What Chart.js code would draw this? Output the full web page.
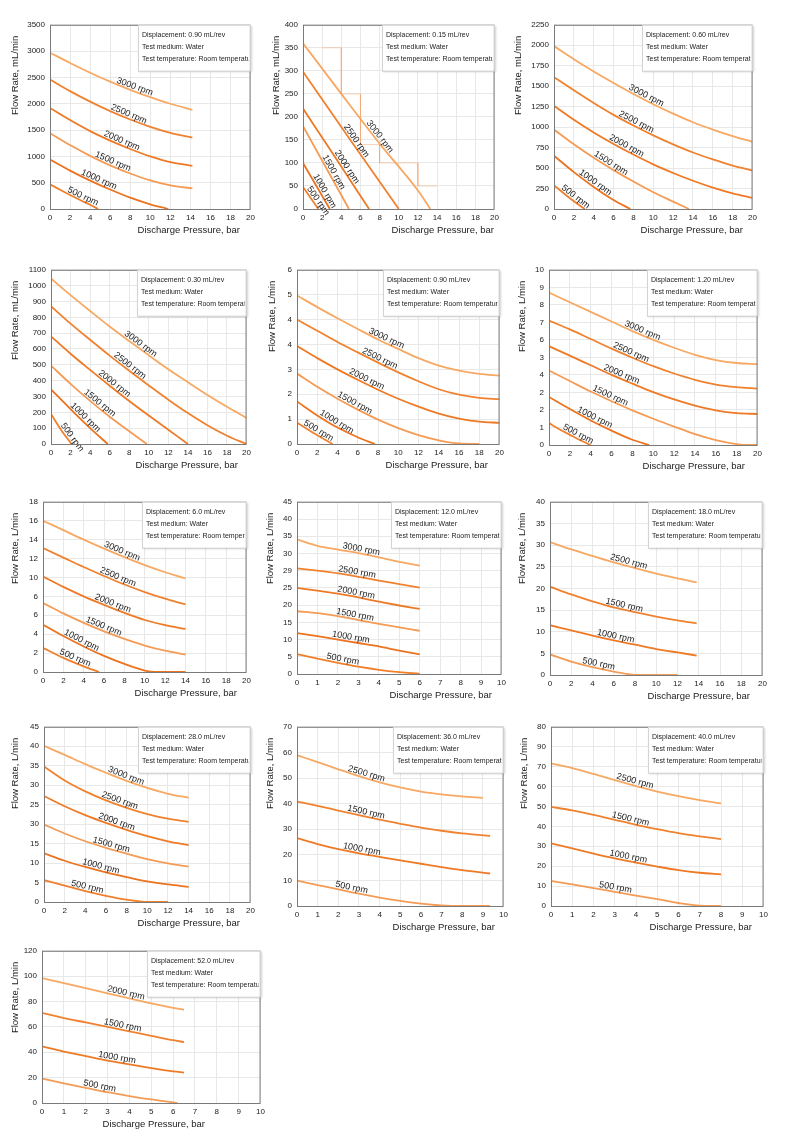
<!DOCTYPE html>
<html>
<head>
<meta charset="utf-8">
<script src="https://cdn.jsdelivr.net/npm/chart.js@4.4.1/dist/chart.umd.min.js"></script>
<style>
  html, body { margin: 0; padding: 0; background: #fff; }
  #sheet { position: relative; width: 800px; height: 1141px; overflow: hidden; }
  #sheet canvas { position: absolute; }
</style>
</head>
<body>
<div id="sheet"></div>
<script>
// curve labels
const speeds6 = ['3000 rpm', '2500 rpm', '2000 rpm', '1500 rpm', '1000 rpm', '500 rpm'];
const speeds4 = ['2500 rpm', '1500 rpm', '1000 rpm', '500 rpm'];
const speeds13 = ['2000 rpm', '1500 rpm', '1000 rpm', '500 rpm'];

// x tick values
const xTicks20 = [0, 2, 4, 6, 8, 10, 12, 14, 16, 18, 20];
const xTicks10 = [0, 1, 2, 3, 4, 5, 6, 7, 8, 9, 10];

// y tick labels as printed on each chart (bottom to top)
const yTicks1 = ['0', '500', '1000', '1500', '2000', '2500', '3000', '3500'];
const yTicks2 = ['0', '50', '100', '150', '200', '250', '300', '350', '400'];
const yTicks3 = ['0', '250', '500', '750', '1000', '1250', '1500', '1750', '2000', '2250'];
const yTicks4 = ['0', '100', '200', '300', '400', '500', '600', '700', '800', '900', '1000', '1100'];
const yTicks5 = ['0', '1', '2', '3', '4', '4', '5', '6'];
const yTicks6 = ['0', '1', '2', '2', '4', '3', '6', '7', '8', '9', '10'];
const yTicks7 = ['0', '2', '4', '6', '6', '10', '12', '14', '16', '18'];
const yTicks8 = ['0', '5', '10', '15', '20', '25', '29', '30', '35', '40', '45'];
const yTicks9 = ['0', '5', '10', '15', '20', '25', '30', '35', '40'];
const yTicks10 = ['0', '5', '10', '15', '30', '25', '30', '35', '40', '45'];
const yTicks11 = ['0', '10', '20', '30', '40', '50', '60', '70'];
const yTicks12 = ['0', '10', '20', '30', '40', '50', '60', '70', '90', '80'];
const yTicks13 = ['0', '20', '40', '60', '80', '100', '120'];

// flow curves: [pressure bar, flow]
const flow090mL = [
  [[0, 2970], [2, 2775], [4, 2590], [6, 2420], [8, 2265], [10, 2125], [12, 2000], [14.2, 1885]],
  [[0, 2460], [2, 2240], [4, 2040], [6, 1860], [8, 1700], [10, 1560], [12, 1445], [14.2, 1355]],
  [[0, 1920], [2, 1690], [4, 1480], [6, 1300], [8, 1140], [10, 1000], [12, 890], [14.2, 820]],
  [[0, 1440], [2, 1215], [4, 1010], [6, 830], [8, 675], [10, 545], [12, 450], [14.2, 390]],
  [[0, 940], [2, 730], [4, 540], [6, 370], [8, 215], [10, 90], [11.8, 0]],
  [[0, 470], [1, 365], [2, 265], [3, 170], [4, 80], [4.8, 0]]
];
const flow015mL = [
  [[0, 360], [4, 250], [8, 142], [12, 40], [13.3, 0]],
  [[0, 298], [5, 148], [10, 0]],
  [[0, 218], [3.5, 108], [6.9, 0]],
  [[0, 180], [2.4, 90], [4.8, 0]],
  [[0, 100], [1.4, 50], [2.8, 0]],
  [[0, 48], [0.8, 24], [1.6, 0]]
];
// faint stepped trace printed behind the 0.15 mL/rev curves
const trace015mL = [[2, 350], [4, 350], [4, 250], [6, 250], [6, 140], [8, 140], [8, 100], [12, 100], [12, 50], [14, 50]];
const flow060mL = [
  [[0, 1990], [2, 1830], [4, 1680], [6, 1540], [8, 1405], [10, 1280], [12, 1165], [14, 1060], [16, 970], [18, 890], [20, 820]],
  [[0, 1610], [2, 1450], [4, 1295], [6, 1150], [8, 1020], [10, 900], [12, 790], [14, 690], [16, 605], [18, 530], [20, 470]],
  [[0, 1260], [2, 1090], [4, 935], [6, 795], [8, 665], [10, 545], [12, 440], [14, 345], [16, 262], [18, 192], [20, 135]],
  [[0, 970], [2, 790], [4, 625], [6, 475], [8, 335], [10, 205], [12, 90], [13.6, 0]],
  [[0, 650], [2, 450], [4, 270], [6, 110], [7.7, 0]],
  [[0, 290], [1, 190], [2, 95], [3.1, 0]]
];
const flow030mL = [
  [[0, 1045], [2, 940], [4, 840], [6, 742], [8, 650], [10, 560], [12, 472], [14, 390], [16, 310], [18, 235], [20, 165]],
  [[0, 870], [2, 760], [4, 658], [6, 558], [8, 462], [10, 370], [12, 280], [14, 195], [16, 118], [18, 52], [20, 0]],
  [[0, 680], [2, 570], [4, 468], [6, 368], [8, 272], [10, 180], [12, 90], [14, 0]],
  [[0, 495], [2, 380], [4, 272], [6, 172], [8, 80], [9.8, 0]],
  [[0, 345], [2, 220], [4, 100], [5.8, 0]],
  [[0, 190], [1, 92], [2.1, 0]]
];
const flow090L = [
  [[0, 5.97], [2, 5.5], [4, 5.05], [6, 4.62], [8, 4.2], [10, 3.82], [12, 3.45], [14, 3.15], [16, 2.95], [18, 2.82], [20, 2.75]],
  [[0, 5.0], [2, 4.55], [4, 4.1], [6, 3.68], [8, 3.27], [10, 2.88], [12, 2.52], [14, 2.2], [16, 1.98], [18, 1.85], [20, 1.8]],
  [[0, 3.94], [2, 3.45], [4, 3.0], [6, 2.58], [8, 2.18], [10, 1.82], [12, 1.5], [14, 1.22], [16, 1.02], [18, 0.9], [20, 0.85]],
  [[0, 2.83], [2, 2.3], [4, 1.82], [6, 1.38], [8, 0.98], [10, 0.64], [12, 0.36], [14, 0.15], [16, 0.02], [18, 0]],
  [[0, 1.71], [2, 1.15], [4, 0.66], [6, 0.27], [7.7, 0]],
  [[0, 0.86], [1, 0.6], [2, 0.35], [3, 0.12], [3.5, 0]]
];
const flow120L = [
  [[0, 8.7], [2, 8.15], [4, 7.6], [6, 7.05], [8, 6.5], [10, 6.0], [12, 5.55], [14, 5.15], [16, 4.85], [18, 4.68], [20, 4.62]],
  [[0, 7.1], [2, 6.6], [4, 6.05], [6, 5.5], [8, 4.98], [10, 4.5], [12, 4.08], [14, 3.72], [16, 3.45], [18, 3.3], [20, 3.22]],
  [[0, 5.64], [2, 5.1], [4, 4.55], [6, 4.0], [8, 3.5], [10, 3.02], [12, 2.6], [14, 2.25], [16, 1.98], [18, 1.82], [20, 1.77]],
  [[0, 4.25], [2, 3.65], [4, 3.05], [6, 2.5], [8, 1.98], [10, 1.5], [12, 1.05], [14, 0.62], [16, 0.28], [18, 0.05], [19, 0], [20, 0]],
  [[0, 2.74], [2, 2.05], [4, 1.4], [6, 0.82], [8, 0.3], [9.6, 0]],
  [[0, 1.25], [1, 0.9], [2, 0.58], [3, 0.27], [4, 0]]
];
const flow600L = [
  [[0, 16.0], [2, 15.0], [4, 14.0], [6, 13.05], [8, 12.15], [10, 11.3], [12, 10.55], [14, 9.9]],
  [[0, 13.1], [2, 12.1], [4, 11.1], [6, 10.15], [8, 9.25], [10, 8.45], [12, 7.75], [14, 7.15]],
  [[0, 10.1], [2, 9.0], [4, 8.0], [6, 7.1], [8, 6.25], [10, 5.5], [12, 4.95], [14, 4.55]],
  [[0, 7.3], [2, 6.2], [4, 5.2], [6, 4.3], [8, 3.5], [10, 2.8], [12, 2.25], [14, 1.85]],
  [[0, 5.0], [2, 3.8], [4, 2.7], [6, 1.7], [8, 0.85], [10, 0.15], [11, 0], [14, 0]],
  [[0, 2.55], [2, 1.5], [4, 0.6], [5.5, 0]]
];
const flow1200L = [
  [[0, 35.2], [1, 33.5], [2, 32.5], [3, 31.6], [4, 30.5], [5, 29.3], [6, 28.3]],
  [[0, 27.6], [1, 27.0], [2, 26.3], [3, 25.4], [4, 24.4], [5, 23.5], [6, 22.6]],
  [[0, 22.5], [1, 21.8], [2, 21.0], [3, 20.0], [4, 18.9], [5, 17.9], [6, 17.0]],
  [[0, 16.4], [1, 15.9], [2, 15.1], [3, 14.1], [4, 13.1], [5, 12.2], [6, 11.3]],
  [[0, 10.7], [1, 9.9], [2, 9.0], [3, 8.1], [4, 7.2], [5, 6.1], [6, 5.1]],
  [[0, 5.2], [1, 4.0], [2, 2.9], [3, 1.9], [4, 1.1], [5, 0.5], [6, 0.05]]
];
const flow1800L = [
  [[0, 30.7], [2, 29.0], [4, 27.5], [6, 26.0], [8, 24.7], [10, 23.4], [12, 22.3], [13.8, 21.4]],
  [[0, 20.4], [2, 18.6], [4, 17.0], [6, 15.6], [8, 14.5], [10, 13.5], [12, 12.6], [13.8, 11.9]],
  [[0, 11.5], [2, 10.3], [4, 9.1], [6, 8.0], [8, 7.0], [10, 6.0], [12, 5.2], [13.8, 4.5]],
  [[0, 4.75], [2, 3.1], [4, 1.8], [6, 0.8], [8, 0.05], [12, 0]]
];
const flow2800L = [
  [[0, 40.1], [2, 37.8], [4, 35.4], [6, 33.2], [8, 31.1], [10, 29.3], [12, 27.8], [14, 26.8]],
  [[0, 34.8], [2, 31.2], [4, 28.4], [6, 26.1], [8, 24.2], [10, 22.6], [12, 21.4], [14, 20.6]],
  [[0, 27.2], [2, 24.6], [4, 22.3], [6, 20.3], [8, 18.5], [10, 16.9], [12, 15.6], [14, 14.6]],
  [[0, 19.9], [2, 17.6], [4, 15.6], [6, 13.9], [8, 12.4], [10, 11.0], [12, 9.9], [14, 9.1]],
  [[0, 12.5], [2, 10.6], [4, 9.0], [6, 7.6], [8, 6.4], [10, 5.3], [12, 4.5], [14, 3.9]],
  [[0, 5.6], [2, 4.2], [4, 2.8], [6, 1.6], [8, 0.6], [10, 0], [12, 0]]
];
const flow3600L = [
  [[0, 58.9], [1, 56.2], [2, 53.4], [3, 50.7], [4, 48.3], [5, 46.3], [6, 44.7], [7, 43.6], [8, 42.8], [9, 42.2]],
  [[0, 40.8], [1, 39.1], [2, 37.3], [3, 35.5], [4, 33.7], [5, 32.1], [6, 30.6], [7, 29.4], [8, 28.4], [9.35, 27.4]],
  [[0, 26.5], [1, 24.2], [2, 22.2], [3, 20.6], [4, 19.2], [5, 17.8], [6, 16.5], [7, 15.2], [8, 14.0], [9.35, 12.7]],
  [[0, 9.9], [1, 8.2], [2, 6.5], [3, 4.8], [4, 3.3], [5, 2.0], [6, 0.9], [7, 0.2], [8, 0], [9.35, 0]]
];
const flow4000L = [
  [[0, 71.6], [1, 69.2], [2, 66.3], [3, 63.2], [4, 60.2], [5, 57.5], [6, 55.2], [7, 53.2], [8, 51.5]],
  [[0, 49.8], [1, 48.0], [2, 45.8], [3, 43.3], [4, 40.8], [5, 38.6], [6, 36.6], [7, 35.0], [8, 33.6]],
  [[0, 31.5], [1, 28.9], [2, 26.3], [3, 23.9], [4, 21.8], [5, 19.8], [6, 18.0], [7, 16.7], [8, 15.9]],
  [[0, 12.6], [1, 10.9], [2, 9.0], [3, 7.1], [4, 5.2], [5, 3.4], [6, 1.5], [7, 0.2], [8, 0]]
];
const flow5200L = [
  [[0, 98.5], [1, 94.5], [2, 90.5], [3, 86.5], [4, 82.5], [5, 78.5], [6, 75], [6.5, 73.5]],
  [[0, 71], [1, 67], [2, 63.5], [3, 60], [4, 56.5], [5, 53], [6, 49.5], [6.5, 48]],
  [[0, 44.6], [1, 40.5], [2, 37], [3, 33.5], [4, 30.5], [5, 27.5], [6, 25], [6.5, 24]],
  [[0, 19.2], [1, 15.5], [2, 12], [3, 8.5], [4, 5.5], [5, 2.8], [6, 0.5], [6.2, 0]]
];

const palette = ['#f7a862', '#f0822f', '#ee7a26', '#f49b55', '#ec7320', '#f0802c'];
const FONT = '"Liberation Sans", Arial, Helvetica, sans-serif';

// page layout: [yTitleX, plotLeft, plotTop, plotRight, plotBottom, boxLeft, xTitleRight]
// labelAt: pressure where each rpm label sits
const charts = [
  { disp: '0.90', unit: 'mL/min', curves: flow090mL, speeds: speeds6, yTicks: yTicks1, yMax: 3500, xTicks: xTicks20,
    frame: [15, 50, 21, 251, 209, 138, 240], labelAt: [8.3, 7.7, 7.0, 6.1, 4.7, 3.1] },
  { disp: '0.15', unit: 'mL/min', curves: flow015mL, speeds: speeds6, yTicks: yTicks2, yMax: 400, xTicks: xTicks20,
    frame: [276, 303, 21, 495, 209, 382, 494], labelAt: [7.65, 5.2, 4.2, 2.8, 1.85, 1.2], trace: trace015mL },
  { disp: '0.60', unit: 'mL/min', curves: flow060mL, speeds: speeds6, yTicks: yTicks3, yMax: 2250, xTicks: xTicks20,
    frame: [518, 554, 21, 753, 209, 642, 743], labelAt: [9.1, 8.1, 7.1, 5.5, 3.9, 1.9] },
  { disp: '0.30', unit: 'mL/min', curves: flow030mL, speeds: speeds6, yTicks: yTicks4, yMax: 1100, xTicks: xTicks20,
    frame: [15, 51, 266, 247, 444, 137, 238], labelAt: [8.9, 7.8, 6.2, 4.7, 3.2, 1.8] },
  { disp: '0.90', unit: 'L/min', curves: flow090L, speeds: speeds6, yTicks: yTicks5, yMax: 7, xTicks: xTicks20,
    frame: [272, 297, 266, 500, 444, 383, 488], labelAt: [8.65, 8.0, 6.7, 5.5, 3.7, 1.9] },
  { disp: '1.20', unit: 'L/min', curves: flow120L, speeds: speeds6, yTicks: yTicks6, yMax: 10, xTicks: xTicks20,
    frame: [522, 549, 266, 758, 445, 647, 745], labelAt: [8.8, 7.7, 6.8, 5.7, 4.2, 2.6] },
  { disp: '6.0', unit: 'L/min', curves: flow600L, speeds: speeds6, yTicks: yTicks7, yMax: 18, xTicks: xTicks20,
    frame: [15, 43, 498, 247, 672, 142, 237], labelAt: [7.6, 7.2, 6.7, 5.8, 3.6, 3.0] },
  { disp: '12.0', unit: 'L/min', curves: flow1200L, speeds: speeds6, yTicks: yTicks8, yMax: 45, xTicks: xTicks10,
    frame: [270, 297, 498, 502, 674, 391, 492], labelAt: [3.1, 2.9, 2.85, 2.8, 2.6, 2.2] },
  { disp: '18.0', unit: 'L/min', curves: flow1800L, speeds: speeds4, yTicks: yTicks9, yMax: 40, xTicks: xTicks20,
    frame: [522, 550, 498, 763, 675, 648, 750], labelAt: [7.3, 6.9, 6.1, 4.5] },
  { disp: '28.0', unit: 'L/min', curves: flow2800L, speeds: speeds6, yTicks: yTicks10, yMax: 45, xTicks: xTicks20,
    frame: [15, 44, 723, 251, 902, 138, 240], labelAt: [7.8, 7.2, 6.9, 6.4, 5.4, 4.1] },
  { disp: '36.0', unit: 'L/min', curves: flow3600L, speeds: speeds4, yTicks: yTicks11, yMax: 70, xTicks: xTicks10,
    frame: [270, 297, 723, 504, 906, 393, 495], labelAt: [3.3, 3.3, 3.1, 2.6] },
  { disp: '40.0', unit: 'L/min', curves: flow4000L, speeds: speeds4, yTicks: yTicks12, yMax: 90, xTicks: xTicks10,
    frame: [524, 551, 723, 764, 906, 648, 752], labelAt: [3.9, 3.7, 3.6, 3.0] },
  { disp: '52.0', unit: 'L/min', curves: flow5200L, speeds: speeds13, yTicks: yTicks13, yMax: 120, xTicks: xTicks10,
    frame: [15, 42, 947, 261, 1103, 147, 205], labelAt: [3.8, 3.65, 3.4, 2.6] }
];

function flowAt(pts, p) {
  if (p <= pts[0][0]) return pts[0][1];
  for (let k = 1; k < pts.length; k++) {
    if (p <= pts[k][0]) {
      const [x0, y0] = pts[k - 1];
      const [x1, y1] = pts[k];
      return y0 + (y1 - y0) * (p - x0) / (x1 - x0);
    }
  }
  return pts[pts.length - 1][1];
}

function makeDecor(spec, originX, originY) {
  const [titleX, , , , , boxLeft, xTitleRight] = spec.frame;
  return {
    id: 'decor',
    afterDatasetsDraw(chart) {
      const { ctx, scales: { x, y } } = chart;
      ctx.save();
      ctx.font = '9px ' + FONT;
      ctx.fillStyle = '#1c1c1c';
      ctx.textAlign = 'center';
      ctx.textBaseline = 'alphabetic';
      spec.labelAt.forEach((p, i) => {
        const pts = spec.curves[i];
        const ax = x.getPixelForValue(p - 0.3), ay = y.getPixelForValue(flowAt(pts, p - 0.3));
        const bx = x.getPixelForValue(p + 0.3), by = y.getPixelForValue(flowAt(pts, p + 0.3));
        ctx.save();
        ctx.translate((ax + bx) / 2, (ay + by) / 2);
        ctx.rotate(Math.atan2(by - ay, bx - ax));
        ctx.fillText(spec.speeds[i], 0, -2);
        ctx.restore();
      });
      ctx.restore();
    },
    afterDraw(chart) {
      const { ctx, chartArea: a } = chart;
      ctx.save();
      // plot frame
      ctx.strokeStyle = '#7a7a7a';
      ctx.lineWidth = 1;
      ctx.strokeRect(a.left + 0.5, a.top + 0.5, a.right - a.left - 1, a.bottom - a.top);

      // test condition box
      const bx = boxLeft - originX, bw = a.right - bx, bh = 46;
      ctx.save();
      ctx.shadowColor = 'rgba(0,0,0,0.18)';
      ctx.shadowBlur = 2;
      ctx.shadowOffsetX = 1;
      ctx.shadowOffsetY = 1;
      ctx.fillStyle = '#fff';
      ctx.fillRect(bx, a.top, bw, bh);
      ctx.restore();
      ctx.strokeStyle = '#d4d4d4';
      ctx.strokeRect(bx + 0.5, a.top + 0.5, bw - 1, bh);
      ctx.save();
      ctx.beginPath();
      ctx.rect(bx, a.top, bw - 2, bh);
      ctx.clip();
      ctx.font = '7px ' + FONT;
      ctx.fillStyle = '#222';
      ctx.textAlign = 'left';
      ctx.textBaseline = 'middle';
      ctx.fillText('Displacement: ' + spec.disp + ' mL/rev', bx + 4, a.top + 10);
      ctx.fillText('Test medium: Water', bx + 4, a.top + 22);
      ctx.fillText('Test temperature: Room temperature', bx + 4, a.top + 34);
      ctx.restore();

      // axis titles
      ctx.font = '9.5px ' + FONT;
      ctx.fillStyle = '#222';
      ctx.textBaseline = 'middle';
      ctx.textAlign = 'right';
      ctx.fillText('Discharge Pressure, bar', xTitleRight - originX, a.bottom + 21);
      ctx.translate(titleX - originX, a.top + 11);
      ctx.rotate(-Math.PI / 2);
      ctx.fillText('Flow Rate, ' + spec.unit, 0, 0);
      ctx.restore();
    }
  };
}

const sheet = document.getElementById('sheet');

charts.forEach((spec) => {
  const [titleX, left, top, right, bottom] = spec.frame;
  const cx = titleX - 7;
  const cy = top - 6;
  const w = right - cx + 8;
  const h = bottom - cy + 34;
  const canvas = document.createElement('canvas');
  canvas.width = w;
  canvas.height = h;
  canvas.style.left = cx + 'px';
  canvas.style.top = cy + 'px';
  canvas.style.width = w + 'px';
  canvas.style.height = h + 'px';
  sheet.appendChild(canvas);

  const xMax = spec.xTicks[spec.xTicks.length - 1];
  const xStep = spec.xTicks[1] - spec.xTicks[0];
  const yStep = spec.yMax / (spec.yTicks.length - 1);

  const datasets = spec.curves.map((pts, i) => ({
    label: spec.speeds[i],
    data: pts.map(([p, q]) => ({ x: p, y: q })),
    borderColor: palette[i % palette.length],
    borderWidth: 1.8,
    pointRadius: 0,
    fill: false,
    cubicInterpolationMode: 'monotone',
  }));
  if (spec.trace) {
    datasets.unshift({
      label: 'trace',
      data: spec.trace.map(([p, q]) => ({ x: p, y: q })),
      borderColor: 'rgba(244,160,100,0.45)',
      borderWidth: 1,
      pointRadius: 0,
      fill: false,
    });
  }

  // eslint-disable-next-line no-undef,no-new
  new Chart(canvas.getContext('2d'), {
    type: 'line',
    data: { datasets },
    options: {
      responsive: false,
      animation: false,
      devicePixelRatio: 1,
      layout: { padding: { left: 0, top: 6, right: 8, bottom: 0 } },
      plugins: { legend: { display: false }, tooltip: { enabled: false } },
      scales: {
        x: {
          type: 'linear',
          min: 0,
          max: xMax,
          afterFit: (s) => { s.height = 34; },
          grid: { color: '#e8e8e8', drawTicks: false },
          border: { display: false },
          ticks: { stepSize: xStep, autoSkip: false, maxRotation: 0, padding: 4, color: '#222', font: { size: 8, family: FONT } },
        },
        y: {
          min: 0,
          max: spec.yMax,
          afterFit: (s) => { s.width = left - cx; },
          grid: { color: '#e8e8e8', drawTicks: false },
          border: { display: false },
          ticks: {
            stepSize: yStep,
            autoSkip: false,
            padding: 5,
            color: '#222',
            font: { size: 8, family: FONT },
            callback: (v, i) => spec.yTicks[i],
          },
        },
      },
    },
    plugins: [makeDecor(spec, cx, cy)],
  });
});
</script>
</body>
</html>
